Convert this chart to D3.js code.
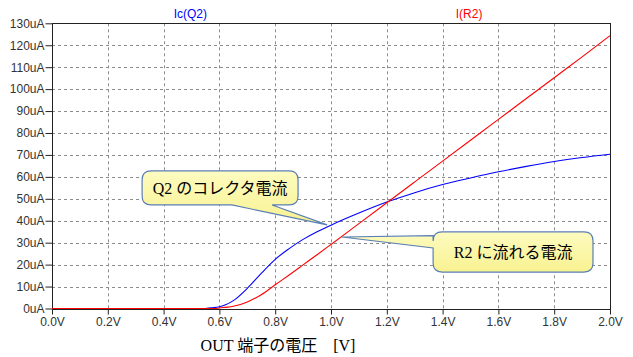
<!DOCTYPE html>
<html><head><meta charset="utf-8">
<script src="https://cdn.jsdelivr.net/npm/d3@7"></script>
<style>
html,body{margin:0;padding:0;background:#fff;}
svg{display:block;}
</style></head>
<body>
<script>
// ---- data ----
const voltages = [0.0,0.1,0.2,0.3,0.4,0.5,0.55,0.57,0.58,0.6,0.62,0.65,0.7,0.75,0.8,0.85,0.9,0.95,1.0,1.1,1.2,1.3,1.4,1.5,1.6,1.7,1.8,1.9,2.0];
const icQ2 =     [0,  0,  0,  0,  0,  0,  0,   0.3, 0.4, 0.8, 1.6, 3.6, 9.2, 16.0,22.4,27.3,31.5,35.0,38.0,43.5,48.5,52.8,56.5,59.5,62.3,64.8,67.0,68.8,70.3];
const iR2 =      [0,  0,  0,  0,  0,  0,  0,   0,   0,   0.2, 0.5, 1.0, 3.0, 6.3, 10.8,15.3,19.9,24.5,29.2,38.7,48.2,57.7,67.2,76.7,86.2,95.7,105.2,114.7,124.4];
const xTicks = [0,0.2,0.4,0.6,0.8,1.0,1.2,1.4,1.6,1.8,2.0];
const xTickLabels = ["0.0V","0.2V","0.4V","0.6V","0.8V","1.0V","1.2V","1.4V","1.6V","1.8V","2.0V"];
const yTicks = [0,10,20,30,40,50,60,70,80,90,100,110,120,130];
const yTickLabels = ["0uA","10uA","20uA","30uA","40uA","50uA","60uA","70uA","80uA","90uA","100uA","110uA","120uA","130uA"];
const seriesNames = ["Ic(Q2)","I(R2)"];
const xTitle = "OUT 端子の電圧\u3000[V]";
// callouts in data units (volts, uA)
const callouts = [
  {text:"Q2 のコレクタ電流", x0:0.323, x1:0.882, y0:62.7, y1:47.2, side:"bottom", b0:0.645, b1:0.789, tx:0.986, ty:38.1},
  {text:"R2 に流れる電流", x0:1.366, x1:1.939, y0:34.9, y1:16.6, side:"left", b0:33.2, b1:27.6, tx:1.039, ty:32.6}
];

const W=633,H=357;
const m={left:52,right:23,top:23.3,bottom:48.5};
const svg=d3.select("body").append("svg").attr("width",W).attr("height",H);
const x=d3.scaleLinear().domain([0,2]).range([m.left,W-m.right]);
const y=d3.scaleLinear().domain([0,130]).range([H-m.bottom,m.top]);
const fontAx="Arial, 'Liberation Sans', sans-serif";

// grid
const g=svg.append("g");
g.selectAll("line.vg").data(xTicks.slice(1,-1)).join("line")
  .attr("x1",d=>Math.round(x(d))+0.5).attr("x2",d=>Math.round(x(d))+0.5)
  .attr("y1",y(130)).attr("y2",y(0))
  .attr("stroke","#8c8c8c").attr("stroke-dasharray","3,3").attr("stroke-width",1);
g.selectAll("line.hg").data(yTicks.slice(1,-1)).join("line")
  .attr("y1",d=>Math.round(y(d))+0.5).attr("y2",d=>Math.round(y(d))+0.5)
  .attr("x1",x(0)).attr("x2",x(2))
  .attr("stroke","#8c8c8c").attr("stroke-dasharray","3,3").attr("stroke-width",1);

// axes
const xAxis=d3.axisBottom(x).tickValues(xTicks).tickFormat((d,i)=>xTickLabels[i]).tickSize(5).tickPadding(3);
const yAxis=d3.axisLeft(y).tickValues(yTicks).tickFormat((d,i)=>yTickLabels[i]).tickSize(7).tickPadding(1);
const gx=svg.append("g").attr("transform",`translate(0,${Math.round(y(0))+0.5})`).call(xAxis);
const gy=svg.append("g").attr("transform",`translate(${Math.round(x(0))+0.5},0)`).call(yAxis);
[gx,gy].forEach(a=>{
  a.selectAll("text").attr("font-family",fontAx).attr("font-size","12px").attr("fill","#333");
  a.selectAll("line").attr("stroke","#222");
  a.select(".domain").remove();
});
// frame
svg.append("rect").attr("x",Math.round(x(0))+0.5).attr("y",Math.round(y(130))+0.5)
  .attr("width",Math.round(x(2))-Math.round(x(0))).attr("height",Math.round(y(0))-Math.round(y(130)))
  .attr("fill","none").attr("stroke","#222").attr("stroke-width",1);

// lines
const pts=(arr)=>voltages.map((v,i)=>[v,arr[i]]);
const line=d3.line().x(d=>x(d[0])).y(d=>y(d[1])).curve(d3.curveMonotoneX);
svg.append("path").datum(pts(icQ2)).attr("d",line).attr("fill","none").attr("stroke","#0000ff").attr("stroke-width",1.1);
svg.append("path").datum(pts(iR2)).attr("d",line).attr("fill","none").attr("stroke","#ff0000").attr("stroke-width",1.1);

// legend labels
svg.append("text").attr("x",x(0.496)).attr("y",18).attr("text-anchor","middle")
  .attr("font-family",fontAx).attr("font-size","12px").attr("fill","#0000ff").text(seriesNames[0]);
svg.append("text").attr("x",x(1.495)).attr("y",18).attr("text-anchor","middle")
  .attr("font-family",fontAx).attr("font-size","12px").attr("fill","#ff0000").text(seriesNames[1]);

// x title
svg.append("text").attr("x",x(0.81)).attr("y",351).attr("text-anchor","middle")
  .attr("font-family","'Liberation Serif','Times New Roman','Noto Sans CJK JP',serif").attr("font-size","16px").attr("fill","#000")
  .text(xTitle);

// callouts
const r=9;
function calloutPath(c){
  const L=x(c.x0),R=x(c.x1),T=y(c.y0),B=y(c.y1),tx=x(c.tx),ty=y(c.ty);
  let p=`M${L+r},${T} L${R-r},${T} Q${R},${T} ${R},${T+r} L${R},${B-r} Q${R},${B} ${R-r},${B} `;
  if(c.side==="bottom"){
    const a=x(c.b0),b=x(c.b1);
    p+=`L${b},${B} L${tx},${ty} L${a},${B} `;
  }
  p+=`L${L+r},${B} Q${L},${B} ${L},${B-r} `;
  if(c.side==="left"){
    const a=y(c.b0),b=y(c.b1);
    p+=`L${L},${b} L${tx},${ty} L${L},${a} `;
  }
  p+=`L${L},${T+r} Q${L},${T} ${L+r},${T} Z`;
  return p;
}
const defs=svg.append("defs");
const grad=defs.append("linearGradient").attr("id","cg").attr("x1",0).attr("y1",0).attr("x2",0).attr("y2",1);
grad.append("stop").attr("offset","0%").attr("stop-color","#fdfbc0");
grad.append("stop").attr("offset","100%").attr("stop-color","#f8f290");
callouts.forEach(c=>{
  svg.append("path").attr("d",calloutPath(c)).attr("fill","url(#cg)").attr("stroke","#5b7fb4").attr("stroke-width",1.2);
  svg.append("text").attr("x",(x(c.x0)+x(c.x1))/2).attr("y",(y(c.y0)+y(c.y1))/2+6)
    .attr("text-anchor","middle")
    .attr("font-family","'Liberation Serif','Times New Roman','Noto Sans CJK JP',serif")
    .attr("font-size","16px").attr("fill","#000").text(c.text);
});
</script>
</body></html>
